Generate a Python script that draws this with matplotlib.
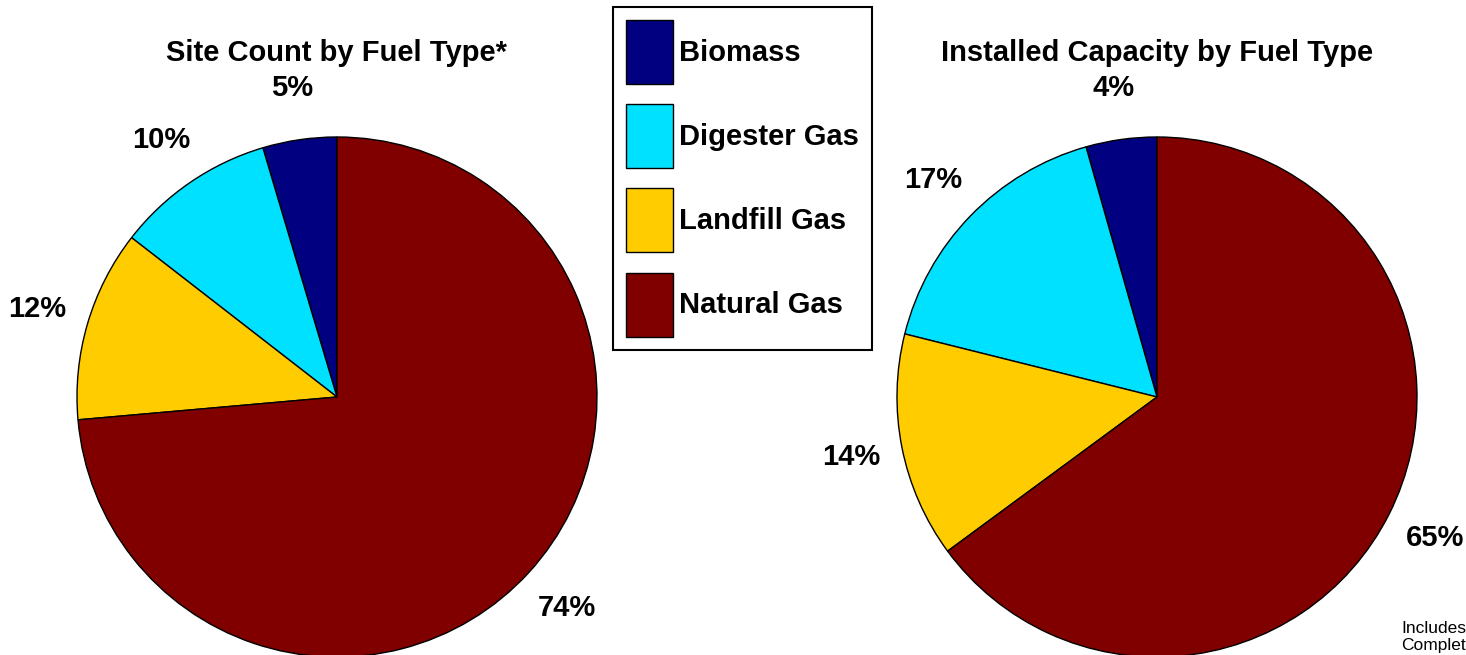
import numpy as np
import matplotlib
matplotlib.use("Agg")
import matplotlib.pyplot as plt

plt.rcParams["font.family"] = ["Liberation Sans", "DejaVu Sans"]

fuels = ["Biomass", "Digester Gas", "Landfill Gas", "Natural Gas"]
colors = ["#000080", "#00E1FF", "#FFCC00", "#800000"]

# shares (percent)
site_share = [4.6, 9.9, 11.9, 73.6]
site_labels = ["5%", "10%", "12%", "74%"]
cap_share = [4.4, 16.7, 14.0, 64.9]
cap_labels = ["4%", "17%", "14%", "65%"]

W, H = 1466, 655
fig = plt.figure(figsize=(W / 100, H / 100), dpi=100)


def draw_pie(cx, cy, r, values, labels, title):
    ax = fig.add_axes([(cx - r) / W, (H - cy - r) / H, 2 * r / W, 2 * r / H])
    wedges, _ = ax.pie(values, colors=colors, startangle=90, counterclock=True,
                       wedgeprops=dict(edgecolor="black", linewidth=1.0))
    ax.set_xlim(-1, 1)
    ax.set_ylim(-1, 1)
    ax.set_aspect("equal")
    ax.axis("off")
    # percent labels at 1.2 x radius on the mid angle, centred
    for w, lab in zip(wedges, labels):
        ang = np.deg2rad((w.theta1 + w.theta2) / 2)
        ax.text(1.2 * np.cos(ang), 1.2 * np.sin(ang), lab, ha="center", va="center",
                fontsize=21, fontweight="bold", clip_on=False)
    fig.text(cx / W, 1 - 53 / H, title, ha="center", va="center",
             fontsize=21, fontweight="bold")
    return wedges


wedges = draw_pie(337, 397, 260, site_share, site_labels, "Site Count by Fuel Type*")
draw_pie(1157, 397, 260, cap_share, cap_labels, "Installed Capacity by Fuel Type")

leg = fig.legend(wedges, fuels, loc="upper left",
                 bbox_to_anchor=(613 / W, 1 - 7 / H), borderaxespad=0,
                 prop=dict(weight="bold", size=21),
                 frameon=True, fancybox=False, edgecolor="black", framealpha=1,
                 handlelength=1.61, handleheight=3.0, labelspacing=0.69,
                 handletextpad=0.2, borderpad=0.45)
leg.get_frame().set_linewidth(1.5)

# footnote is cut off by the right edge, as in the original
fig.text(1401 / W, 1 - 621 / H, "Includes\nCompleted", ha="left", va="top",
         fontsize=12.5, linespacing=1.2)

fig.savefig("out.png", dpi=100)
